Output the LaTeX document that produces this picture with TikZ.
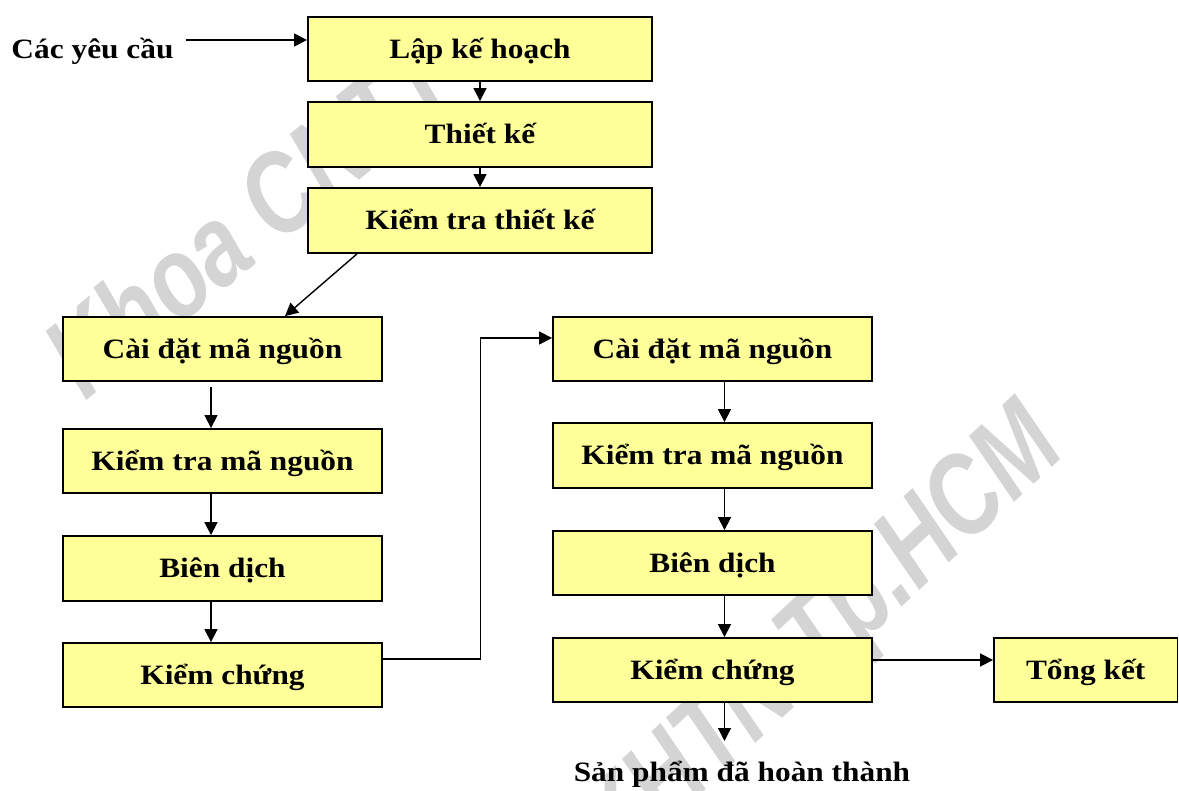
\documentclass[tikz,border=0pt]{standalone}
\usepackage{fontspec}
\setmainfont{Liberation Serif}[FakeStretch=1.12]
\newfontfamily\wmfont{Liberation Sans}[FakeStretch=0.78]
\usetikzlibrary{arrows.meta}
\definecolor{boxyellow}{HTML}{FFFF99}
\definecolor{wmgray}{gray}{0.83}
\begin{document}
\begin{tikzpicture}[x=1pt,y=-1pt,
  lbl/.style={inner sep=0pt, text height=22pt, text depth=3.5pt,
    font=\bfseries\fontsize{28}{32}\selectfont},
  stagebox/.style={lbl, draw, line width=1.8pt, fill=boxyellow,
    minimum height=64pt},
  wide/.style={stagebox, minimum width=344pt},
  col/.style={stagebox, minimum width=319pt},
  arr/.style={line width=1.4pt, -{Triangle[length=13pt,width=13pt]}},
  wm/.style={inner sep=0pt, text=wmgray,
    font=\wmfont\bfseries\itshape\fontsize{115}{120}\selectfont}]
\useasboundingbox (0,0) rectangle (1179,791);

% background watermark
\node[wm, rotate=39, anchor=base west] (wm1) at (85,402) {Khoa CNTT};
\node[wm, rotate=43, anchor=base east] (wm2) at (1068,452) {ĐH KHTN Tp.HCM};

% design phase
\node[lbl] (req) at (92.5,49) {Các yêu cầu};
\node[wide] (plan) at (480,49) {Lập kế hoạch};
\node[wide, minimum height=65pt] (design) at (480,134.5) {Thiết kế};
\node[wide, minimum height=65pt] (dcheck) at (480,220.5) {Kiểm tra thiết kế};

% first coding pass
\node[col] (code1) at (222.5,349) {Cài đặt mã nguồn};
\node[col] (rev1) at (222.5,461) {Kiểm tra mã nguồn};
\node[col, minimum height=65pt] (comp1) at (222.5,568.5) {Biên dịch};
\node[col] (ver1) at (222.5,675) {Kiểm chứng};

% second coding pass
\node[col] (code2) at (712.5,349) {Cài đặt mã nguồn};
\node[col, minimum height=65pt] (rev2) at (712.5,455.5) {Kiểm tra mã nguồn};
\node[col] (comp2) at (712.5,563) {Biên dịch};
\node[col] (ver2) at (712.5,670) {Kiểm chứng};

\node[stagebox, minimum width=183.5pt] (sum) at (1085.75,670) {Tổng kết};
\node[lbl] (done) at (742,772.5) {Sản phẩm đã hoàn thành};
\coordinate (out) at (724.5,741);

% connectors
\draw[arr] ([xshift=12pt,yshift=9pt]req.east) -- ([yshift=9pt]plan.west);
\draw[arr] (plan.south) -- (design.north);
\draw[arr] (design.south) -- (dcheck.north);
\draw[arr] ([xshift=-123pt]dcheck.south) -- ([xshift=62.5pt]code1.north);

\draw[arr] ([xshift=-11.5pt,yshift=-5pt]code1.south) -- ([xshift=-11.5pt]rev1.north);
\draw[arr] ([xshift=-11.5pt]rev1.south) -- ([xshift=-11.5pt]comp1.north);
\draw[arr] ([xshift=-11.5pt]comp1.south) -- ([xshift=-11.5pt]ver1.north);

\draw[arr] ([yshift=16pt]ver1.east) -- ++(97.5,0) |- ([yshift=11pt]code2.west);

\draw[arr] ([xshift=12pt]code2.south) -- ([xshift=12pt]rev2.north);
\draw[arr] ([xshift=12pt]rev2.south) -- ([xshift=12pt]comp2.north);
\draw[arr] ([xshift=12pt]comp2.south) -- ([xshift=12pt]ver2.north);
\draw[arr] ([yshift=10pt]ver2.east) -- ([yshift=10pt]sum.west);
\draw[arr] ([xshift=12pt]ver2.south) -- (out);
\end{tikzpicture}
\end{document}
